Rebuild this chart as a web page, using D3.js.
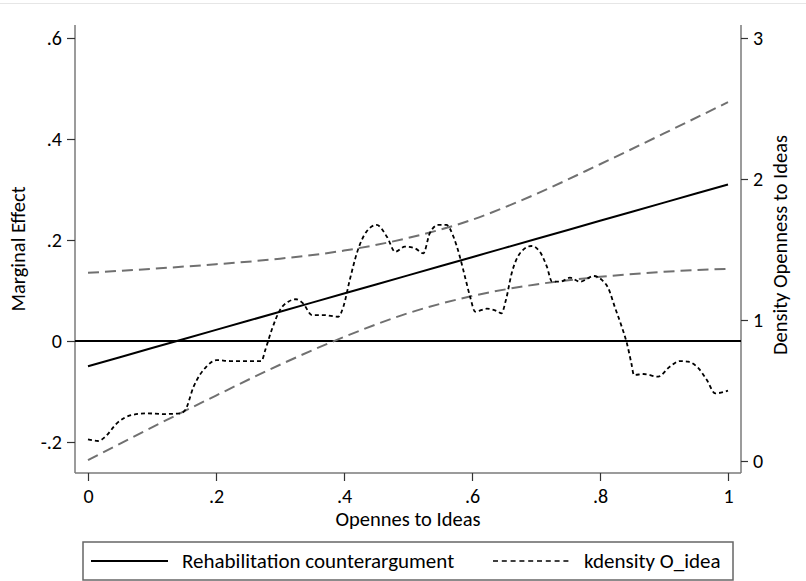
<!DOCTYPE html>
<html><head><meta charset="utf-8">
<script src="https://cdn.jsdelivr.net/npm/d3@7"></script>
<style>
body{margin:0;background:#fff;}
text{font-family:Carlito,Lato,"Open Sans",sans-serif;fill:#000;}
</style></head>
<body><svg id="c" width="806" height="581"></svg>
<script>
// ---- data ----
const xTicks = [0, 0.2, 0.4, 0.6, 0.8, 1];
const xTickLabels = ["0", ".2", ".4", ".6", ".8", "1"];
const yLeftTicks = [-0.2, 0, 0.2, 0.4, 0.6];
const yLeftTickLabels = ["-.2", "0", ".2", ".4", ".6"];
const yRightTicks = [0, 1, 2, 3];
const yRightTickLabels = ["0", "1", "2", "3"];

const meX = [0, 0.1, 0.2, 0.3, 0.4, 0.5, 0.6, 0.7, 0.8, 0.9, 1.0];
const marginalEffect = [-0.050, -0.014, 0.022, 0.058, 0.094, 0.130, 0.166, 0.202, 0.238, 0.274, 0.310];
const upperCI = [0.135, 0.143, 0.152, 0.163, 0.179, 0.204, 0.240, 0.291, 0.350, 0.411, 0.473];
const lowerCI = [-0.236, -0.171, -0.108, -0.047, 0.008, 0.055, 0.089, 0.112, 0.127, 0.137, 0.143];

const kdX = [0.000,0.016,0.027,0.045,0.068,0.092,0.118,0.144,0.152,0.165,0.185,0.201,0.222,0.248,0.271,0.277,0.287,0.300,0.313,0.325,0.336,0.350,0.368,0.391,0.399,0.409,0.420,0.435,0.451,0.467,0.480,0.495,0.511,0.524,0.534,0.547,0.560,0.571,0.581,0.589,0.597,0.605,0.623,0.641,0.646,0.653,0.662,0.675,0.693,0.706,0.717,0.725,0.738,0.753,0.769,0.790,0.803,0.813,0.823,0.834,0.842,0.849,0.853,0.868,0.891,0.909,0.925,0.938,0.954,0.967,0.980,1.000];
const kdY = [0.154,0.142,0.172,0.267,0.326,0.338,0.333,0.338,0.362,0.527,0.669,0.716,0.709,0.709,0.709,0.787,0.929,1.071,1.130,1.147,1.118,1.035,1.035,1.023,1.094,1.284,1.473,1.626,1.674,1.591,1.484,1.520,1.508,1.473,1.615,1.674,1.674,1.591,1.449,1.307,1.165,1.059,1.080,1.059,1.047,1.142,1.331,1.473,1.525,1.484,1.378,1.272,1.272,1.300,1.272,1.312,1.284,1.225,1.094,0.952,0.835,0.693,0.610,0.617,0.598,0.669,0.709,0.704,0.657,0.574,0.480,0.499];

const legendLabels = ["Rehabilitation counterargument", "kdensity O_idea"];
const xTitle = "Opennes to Ideas";
const yLeftTitle = "Marginal Effect";
const yRightTitle = "Density Openness to Ideas";

// ---- layout ----
const svg = d3.select("#c");
const L = 75, R = 741, T = 25, B = 473;
const x = d3.scaleLinear().domain([0, 1]).range([88, 728]);
const yL = d3.scaleLinear().domain([-0.2, 0.6]).range([442, 38]);
const yR = d3.scaleLinear().domain([0, 3]).range([461, 38]);
const axisColor = "#7a7a7a";
const tickFs = 20, titleFs = 20.5, legFs = 21;

// faint top border line
svg.append("line").attr("x1", 0).attr("x2", 806).attr("y1", 3.5).attr("y2", 3.5).attr("stroke", "#e6e6e6").attr("stroke-width", 1);

// frame lines
svg.append("line").attr("x1", L).attr("x2", L).attr("y1", T).attr("y2", B).attr("stroke", axisColor).attr("stroke-width", 1.5);
svg.append("line").attr("x1", R).attr("x2", R).attr("y1", T).attr("y2", B).attr("stroke", axisColor).attr("stroke-width", 1.5);
svg.append("line").attr("x1", L).attr("x2", R).attr("y1", B).attr("y2", B).attr("stroke", axisColor).attr("stroke-width", 1.5);

function styleAxis(g){
  g.select(".domain").remove();
  g.selectAll(".tick line").attr("stroke", "#333").attr("stroke-width", 1.2);
  g.selectAll(".tick text").style("font-size", tickFs + "px").style("font-family", "Carlito,Lato,sans-serif").attr("fill", "#000");
}
svg.append("g").attr("transform", `translate(${L},0)`)
  .call(d3.axisLeft(yL).tickValues(yLeftTicks).tickSize(8).tickPadding(5).tickFormat((d,i)=>yLeftTickLabels[i]))
  .call(styleAxis);
svg.append("g").attr("transform", `translate(${R},0)`)
  .call(d3.axisRight(yR).tickValues(yRightTicks).tickSize(7).tickPadding(5).tickFormat((d,i)=>yRightTickLabels[i]))
  .call(styleAxis);
svg.append("g").attr("transform", `translate(0,${B})`)
  .call(d3.axisBottom(x).tickValues(xTicks).tickSize(8).tickPadding(8).tickFormat((d,i)=>xTickLabels[i]))
  .call(styleAxis);

// zero reference line
svg.append("line").attr("x1", L).attr("x2", R).attr("y1", yL(0)).attr("y2", yL(0)).attr("stroke", "#000").attr("stroke-width", 2);

const lineL = d3.line().x((d,i)=>x(meX[i])).y(d=>yL(d)).curve(d3.curveMonotoneX);
svg.append("path").attr("d", lineL(upperCI)).attr("fill", "none").attr("stroke", "#707070").attr("stroke-width", 2).attr("stroke-dasharray", "11,6");
svg.append("path").attr("d", lineL(lowerCI)).attr("fill", "none").attr("stroke", "#707070").attr("stroke-width", 2).attr("stroke-dasharray", "11,6");
svg.append("path").attr("d", lineL(marginalEffect)).attr("fill", "none").attr("stroke", "#000").attr("stroke-width", 2);

const kdLine = d3.line().x((d,i)=>x(kdX[i])).y(d=>yR(d)).curve(d3.curveMonotoneX);
svg.append("path").attr("d", kdLine(kdY)).attr("fill", "none").attr("stroke", "#000").attr("stroke-width", 1.8).attr("stroke-dasharray", "4,3");

// titles
svg.append("text").attr("x", 408).attr("y", 526).attr("text-anchor", "middle").style("font-size", titleFs + "px").text(xTitle);
svg.append("text").attr("transform", `translate(25,${(T+B)/2}) rotate(-90)`).attr("text-anchor", "middle").style("font-size", titleFs + "px").text(yLeftTitle);
svg.append("text").attr("transform", `translate(787,${(T+B)/2 - 4}) rotate(-90)`).attr("text-anchor", "middle").style("font-size", titleFs + "px").text(yRightTitle);

// legend
svg.append("rect").attr("x", 83).attr("y", 542).attr("width", 650).attr("height", 38).attr("fill", "#fff").attr("stroke", "#666").attr("stroke-width", 1.5);
const ly = 568;
svg.append("line").attr("x1", 91).attr("x2", 168).attr("y1", ly-7).attr("y2", ly-7).attr("stroke", "#000").attr("stroke-width", 2);
svg.append("text").attr("x", 182).attr("y", ly).style("font-size", legFs + "px").text(legendLabels[0]);
svg.append("line").attr("x1", 493).attr("x2", 572).attr("y1", ly-7).attr("y2", ly-7).attr("stroke", "#000").attr("stroke-width", 1.5).attr("stroke-dasharray", "5,3.8");
svg.append("text").attr("x", 584).attr("y", ly).style("font-size", legFs + "px").text(legendLabels[1]);
</script></body></html>
